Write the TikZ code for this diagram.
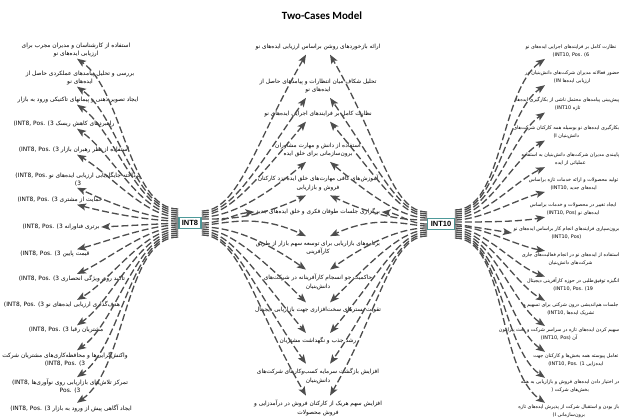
\documentclass[tikz,border=0pt]{standalone}
\usepackage{fontspec}
\usetikzlibrary{arrows.meta}
\TeXXeTstate=1
\newfontfamily\farsi[Script=Arabic]{DejaVu Sans}
\newfontfamily\titlefont{Carlito}
\newfontfamily\casefont{Liberation Sans}
\newcommand{\rline}[1]{\beginR#1\endR}
\newcommand{\lpart}[1]{\beginL#1\endL}
\definecolor{arrowgray}{HTML}{4D4D4D}
\definecolor{caseteal}{HTML}{4E9A9A}
\tikzset{
	idea/.style={font=\farsi\fontsize{5.9}{8}\selectfont, align=center, inner sep=1.5pt},
	midea/.style={idea, font=\farsi\fontsize{5.8}{8.5}\selectfont},
	ridea/.style={idea, anchor=east, font=\farsi\fontsize{4.9}{8}\selectfont},
	case/.style={draw=caseteal, line width=1.3pt, fill=white, font=\casefont\bfseries\fontsize{7.5}{9}\selectfont, inner xsep=3pt, inner ysep=3pt},
	link/.style={draw=arrowgray, line width=1.3pt, dash pattern=on 7pt off 3pt, -{Stealth[length=9pt,width=7pt,inset=2pt]}},
}

\begin{document}
\begin{tikzpicture}[x=1pt,y=1pt]
	\useasboundingbox (0,0) rectangle (622,-418);
	\node [font=\titlefont\bfseries\fontsize{11}{13}\selectfont] (title) at (322,-16) {Two-Cases Model};
	\node [case] (INT8) at (190,-223) {INT8};
	\node [case] (INT10) at (441,-224) {INT10};

	\node [idea] (L1) at (76,-50) {\rline{استفاده از کارشناسان و مدیران مجرب برای}\\\rline{ارزیابی ایده‌های نو}};
	\node [idea] (L2) at (80,-78) {\rline{بررسی و تحلیل پیامدهای عملکردی حاصل از}\\\rline{ایده‌های نو}};
	\node [idea] (L3) at (78,-100) {\rline{ایجاد تصویر ذهنی و پیمانهای تاکتیکی ورود به بازار}};
	\node [idea] (L4) at (64,-124) {\rline{راهبردهای کاهش ریسک \lpart{(INT8, Pos. 3)}}};
	\node [idea] (L5) at (74,-150) {\rline{استفاده از نظر رهبران بازار \lpart{(INT8, Pos. 3)}}};
	\node [idea] (L6) at (78,-179) {\rline{پرداخته جایگاه‌یابی ارزیابی ایده‌های نو \lpart{(INT8, Pos.}}\\3)};
	\node [idea] (L7) at (60,-200) {\rline{حمایت از مشتری \lpart{(INT8, Pos. 3)}}};
	\node [idea] (L8) at (61,-227) {\rline{برتری فناورانه \lpart{(INT8, Pos. 3)}}};
	\node [idea] (L9) at (55,-254) {\rline{قیمت پایین \lpart{(INT8, Pos. 3)}}};
	\node [idea] (L10) at (72,-279) {\rline{تاکید روی ویژگی انحصاری \lpart{(INT8, Pos. 3)}}};
	\node [idea] (L11) at (62,-305) {\rline{هدف‌گذاری ارزیابی ایده‌های نو \lpart{(INT8, Pos. 3)}}};
	\node [idea] (L12) at (66,-330) {\rline{مشتریان رقبا \lpart{(INT8, Pos. 3)}}};
	\node [idea] (L13) at (65,-359) {\rline{واکنش‌گرایی‌ها و محافظه‌کاری‌های مشتریان شرکت}\\(INT8, Pos. 3)};
	\node [idea] (L14) at (70,-386) {\rline{تمرکز تلاش‌های بازاریابی روی نوآوری‌ها \lpart{(INT8,}}\\Pos. 3)};
	\node [idea] (L15) at (71,-408) {\rline{ایجاد آگاهی پیش از ورود به بازار \lpart{(INT8, Pos. 3)}}};

	\node [midea] (M1) at (318,-47) {\rline{ارائه بازخوردهای روشن براساس ارزیابی ایده‌های نو}};
	\node [midea] (M2) at (318,-86) {\rline{تحلیل شکاف میان انتظارات و پیامدهای حاصل از}\\\rline{ایده‌های نو}};
	\node [midea] (M3) at (318,-114) {\rline{نظارت کامل بر فرایندهای اجرایی ایده‌های نو}};
	\node [midea] (M4) at (318,-150) {\rline{استفاده از دانش و مهارت مشاوران}\\\rline{برون‌سازمانی برای خلق ایده}};
	\node [midea] (M5) at (318,-183) {\rline{آموزش‌های کافی مهارت‌های خلق ایده نزد کارکنان}\\\rline{فروش و بازاریابی}};
	\node [midea] (M6) at (318,-212) {\rline{برگزاری جلسات طوفان فکری و خلق ایده‌های جدید}};
	\node [midea] (M7) at (318,-248) {\rline{برنامه‌های بازاریابی برای توسعه سهم بازار از طریق}\\\rline{کارآفرینی}};
	\node [midea] (M8) at (318,-282) {\rline{حاکمیت جو انسجام کارآفرینانه در شرکت‌های}\\\rline{دانش‌بنیان}};
	\node [midea] (M9) at (318,-310) {\rline{تقویت بسترهای سخت‌افزاری جهت بازاریابی دیجیتال}};
	\node [midea] (M10) at (318,-341) {\rline{رشد جذب و نگهداشت مشتریان}};
	\node [midea] (M11) at (318,-376) {\rline{افزایش بازگشت سرمایه کسب‌وکارهای شرکت‌های}\\\rline{دانش‌بنیان}};
	\node [midea] (M12) at (318,-408) {\rline{افزایش سهم هریک از کارکنان فروش در درآمدزایی و}\\\rline{فروش محصولات}};

	\node [ridea] (R1) at (618,-51) {\rline{نظارت کامل بر فرایندهای اجرایی ایده‌های نو}\\(INT10, Pos. 6)};
	\node [ridea] (R2) at (621,-77) {\rline{حضور فعالانه مدیران شرکت‌های دانش‌بنیان در}\\\rline{ارزیابی ایده‌ها \lpart{(IN}}};
	\node [ridea] (R3) at (621,-104) {\rline{پیش‌بینی پیامدهای محتمل ناشی از بکارگیری ایده‌ها}\\\rline{تازه \lpart{(INT10}}};
	\node [ridea] (R4) at (621,-132) {\rline{بکارگیری ایده‌های نو بوسیله همه کارکنان شرکت‌های}\\\rline{دانش‌بنیان \lpart{(I}}};
	\node [ridea] (R5) at (621,-159) {\rline{پایبندی مدیران شرکت‌های دانش‌بنیان به استفاده}\\\rline{عملیاتی از ایده}};
	\node [ridea] (R6) at (620,-184) {\rline{تولید محصولات و ارائه خدمات تازه براساس}\\\rline{ایده‌های جدید \lpart{(INT10,}}};
	\node [ridea] (R7) at (618,-209) {\rline{ایجاد تغییر در محصولات و خدمات براساس}\\\rline{ایده‌های نو \lpart{(INT10, Pos)}}};
	\node [ridea] (R8) at (621,-233) {\rline{برون‌سپاری فرایندهای انجام کار براساس ایده‌های نو}\\(INT10, Pos)};
	\node [ridea] (R9) at (621,-259) {\rline{استفاده از ایده‌های نو در انجام فعالیت‌های جاری}\\\rline{شرکت‌های دانش‌بنیان}};
	\node [ridea] (R10) at (621,-285) {\rline{انگیزه توفیق‌طلبی در حوزه کارآفرینی دیجیتال}\\(INT10, Pos. 19)};
	\node [ridea] (R11) at (620,-309) {\rline{جلسات هم‌اندیشی درون شرکتی برای تسهیم و}\\\rline{تشریک ایده‌ها \lpart{(INT10,}}};
	\node [ridea] (R12) at (621,-334) {\rline{سهیم کردن ایده‌های تازه در سراسر شرکت و بحث پیرامون}\\\rline{آن \lpart{(INT10, Pos)}}};
	\node [ridea] (R13) at (620,-360) {\rline{تعامل پیوسته همه بخش‌ها و کارکنان جهت}\\\rline{ایده‌زایی \lpart{(INT10, Pos. 1)}}};
	\node [ridea] (R14) at (621,-386) {\rline{در اختیار دادن ایده‌های فروش و بازاریابی به همه}\\\rline{بخش‌های شرکت (}};
	\node [ridea] (R15) at (621,-411) {\rline{باز بودن و استقبال شرکت از پذیرش ایده‌های تازه}\\\rline{برون‌سازمانی \lpart{(I}}};

	\foreach \i/\s/\a in {1/14/-35,2/12/-35,3/10/-35,4/8/-35,5/6/-30,6/4/-25,7/2/-15}
	\draw [link] ([yshift=\s pt]INT8.west) to [out=180,in=\a,out looseness=.7,in looseness=.8] (77,0 |- L\i.south);
	\draw [link] (INT8.west) -- (L8.east);
	\foreach \i/\s/\a in {9/-2/15,10/-4/25,11/-6/30,12/-8/35,13/-10/35,14/-12/35,15/-14/35}
	\draw [link] ([yshift=\s pt]INT8.west) to [out=180,in=\a,out looseness=.7,in looseness=.8] (77,0 |- L\i.north);

	\foreach \i/\s/\a in {1/12/-120,2/10/-125,3/8/-130,4/6/-140,5/4/-155}
	\draw [link] ([yshift=\s pt]INT8.east) to [out=0,in=\a,out looseness=.5,in looseness=1.4] ([xshift=-12pt,yshift=-3pt]M\i.south);
	\draw [link] (INT8.east) to [out=0,in=185] (M6.west);
	\foreach \i/\s/\a in {7/-2/155,8/-4/145,9/-6/135,10/-8/130,11/-10/125,12/-12/120}
	\draw [link] ([yshift=\s pt]INT8.east) to [out=0,in=\a,out looseness=.5,in looseness=1.4] ([xshift=-12pt,yshift=3pt]M\i.north);

	\foreach \i/\s/\a in {1/12/-60,2/10/-55,3/8/-50,4/6/-40,5/4/-25}
	\draw [link] ([yshift=\s pt]INT10.west) to [out=180,in=\a,out looseness=.5,in looseness=1.4] ([xshift=12pt,yshift=-3pt]M\i.south);
	\draw [link] (INT10.west) to [out=180,in=-5] (M6.east);
	\foreach \i/\s/\a in {7/-2/25,8/-4/35,9/-6/45,10/-8/50,11/-10/55,12/-12/60}
	\draw [link] ([yshift=\s pt]INT10.west) to [out=180,in=\a,out looseness=.5,in looseness=1.4] ([xshift=12pt,yshift=3pt]M\i.north);

	\foreach \i/\s/\a in {1/14/215,2/12/215,3/10/215,4/8/210,5/6/205,6/4/195,7/2/190}
	\draw [link] ([yshift=\s pt]INT10.east) to [out=0,in=\a,out looseness=.7,in looseness=.8] (545,0 |- R\i.south);
	\draw [link] (INT10.east) -- (R8.west);
	\foreach \i/\s/\a in {9/-2/170,10/-4/160,11/-6/150,12/-8/145,13/-10/145,14/-12/145,15/-14/145}
	\draw [link] ([yshift=\s pt]INT10.east) to [out=0,in=\a,out looseness=.7,in looseness=.8] (545,0 |- R\i.north);
\end{tikzpicture}
\end{document}
